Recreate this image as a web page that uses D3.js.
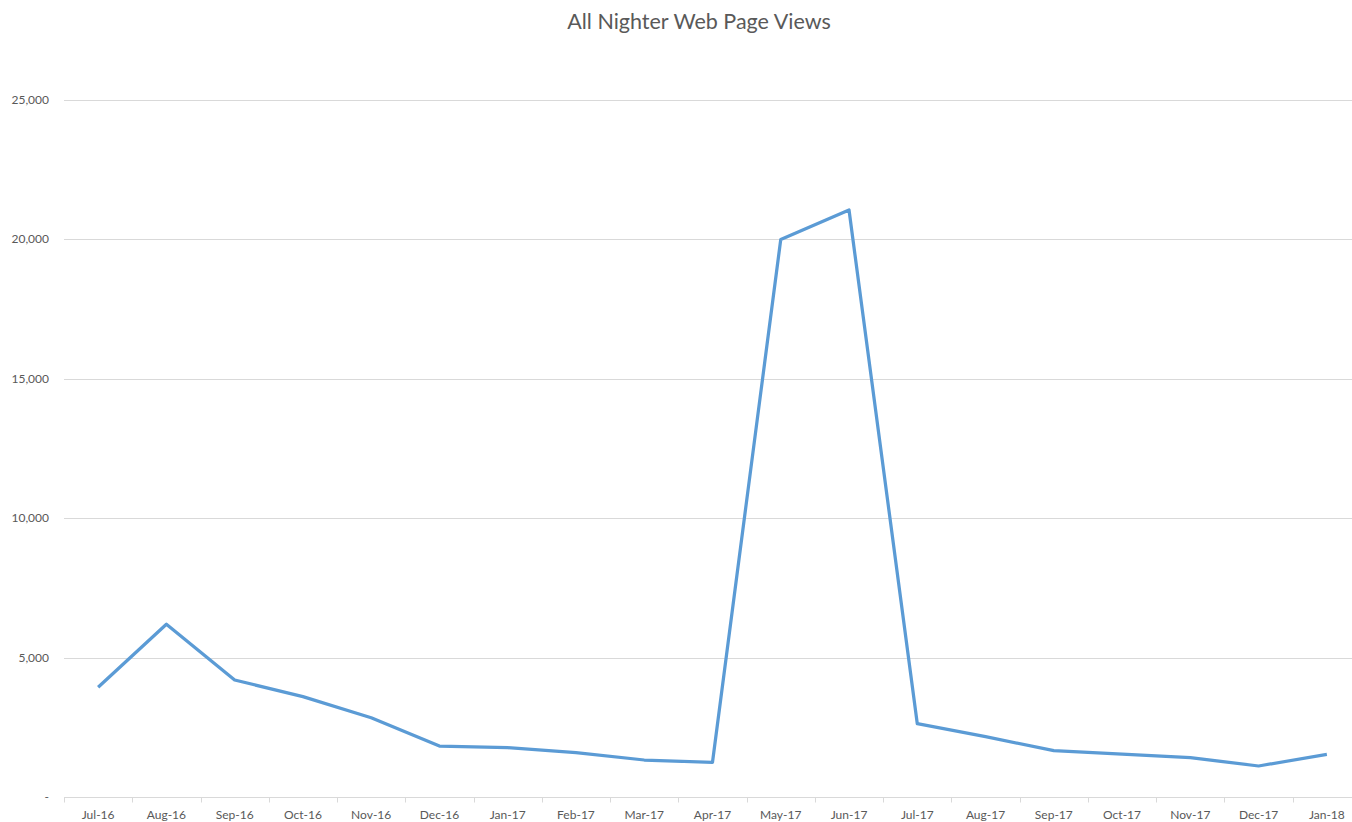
<!DOCTYPE html>
<html lang="en">
<head>
    <meta charset="UTF-8">
    <title>All Nighter Web Page Views</title>
    <style>
        body { margin: 0; overflow: hidden; background: #fff; }
        #chart { width: 1352px; height: 822px; }
        text { font-family: Lato, "Open Sans", sans-serif; fill: #595959; }
    </style>
</head>
<body>

<div id="chart"></div>

<script src="https://cdnjs.cloudflare.com/ajax/libs/d3/7.8.5/d3.min.js"></script>
<script>
    const months = ['Jul-16', 'Aug-16', 'Sep-16', 'Oct-16', 'Nov-16', 'Dec-16', 'Jan-17', 'Feb-17', 'Mar-17', 'Apr-17',
                    'May-17', 'Jun-17', 'Jul-17', 'Aug-17', 'Sep-17', 'Oct-17', 'Nov-17', 'Dec-17', 'Jan-18'];
    const views = [3935, 6194, 4197, 3600, 2845, 1829, 1768, 1589, 1327, 1245,
                   20000, 21054, 2629, 2163, 1661, 1542, 1410, 1112, 1531];
    const yTicks = [0, 5000, 10000, 15000, 20000, 25000];

    const width = 1352, height = 822;
    const margin = {top: 100, left: 64, bottom: 25};
    const plotRight = 1361; // the picture is cut off on the right

    const svg = d3.select('#chart').append('svg')
        .attr('width', width)
        .attr('height', height);

    const x = d3.scaleBand().domain(months).range([margin.left, plotRight]);
    const y = d3.scaleLinear().domain([0, 25000]).range([797, margin.top]);

    // title
    svg.append('text')
        .attr('x', 699)
        .attr('y', 29)
        .attr('text-anchor', 'middle')
        .style('font-size', '21.5px')
        .text('All Nighter Web Page Views');

    // gridlines
    svg.append('g')
        .selectAll('line')
        .data(yTicks.filter(d => d > 0))
        .join('line')
        .attr('x1', margin.left)
        .attr('x2', width)
        .attr('y1', d => Math.round(y(d)) + 0.5)
        .attr('y2', d => Math.round(y(d)) + 0.5)
        .attr('stroke', '#d9d9d9');

    // y labels
    svg.append('g')
        .selectAll('text')
        .data(yTicks)
        .join('text')
        .attr('x', 49)
        .attr('y', d => y(d) + 4)
        .attr('text-anchor', 'end')
        .style('font-size', '12px')
        .text(d => d === 0 ? '-' : d3.format(',')(d));

    // x axis
    const xAxis = svg.append('g')
        .attr('transform', `translate(0,${Math.round(y(0)) + 0.5})`);
    xAxis.append('line')
        .attr('x1', margin.left)
        .attr('x2', width)
        .attr('stroke', '#d9d9d9');
    xAxis.selectAll('.tick')
        .data(months)
        .join('line')
        .attr('class', 'tick')
        .attr('x1', d => Math.round(x(d)) + 0.5)
        .attr('x2', d => Math.round(x(d)) + 0.5)
        .attr('y1', 0)
        .attr('y2', 5)
        .attr('stroke', '#d9d9d9');
    xAxis.selectAll('text')
        .data(months)
        .join('text')
        .attr('x', d => x(d) + x.bandwidth() / 2)
        .attr('y', 21)
        .attr('text-anchor', 'middle')
        .style('font-size', '12px')
        .text(d => d);

    // line
    const line = d3.line()
        .x((d, i) => x(months[i]) + x.bandwidth() / 2)
        .y(d => y(d));

    svg.append('path')
        .datum(views)
        .attr('d', line)
        .attr('fill', 'none')
        .attr('stroke', '#5b9bd5')
        .attr('stroke-width', 3.25)
        .attr('stroke-linejoin', 'round');
</script>

</body>
</html>
